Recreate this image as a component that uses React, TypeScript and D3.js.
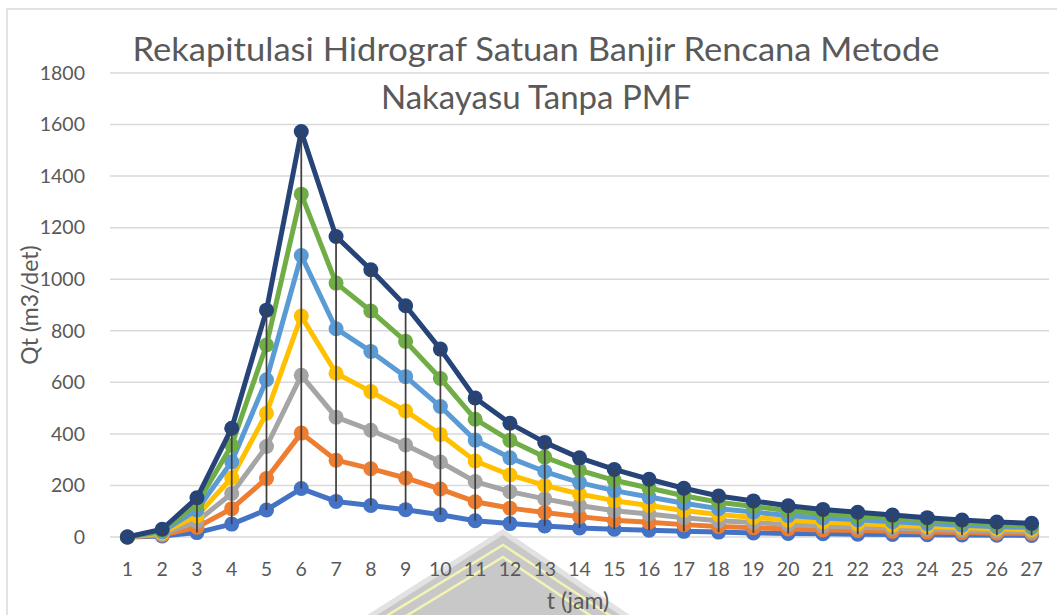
import React from 'react';
import * as d3 from 'd3';

// jam ke-
const hours = [1, 2, 3, 4, 5, 6, 7, 8, 9, 10, 11, 12, 13, 14, 15, 16, 17, 18, 19, 20, 21, 22, 23, 24, 25, 26, 27];
const yTicks = [0, 200, 400, 600, 800, 1000, 1200, 1400, 1600, 1800];

// debit per kala ulang (m3/det)
const q1 = [0, 4, 17, 50, 105, 188, 138, 122, 106, 86, 63, 52, 43, 35, 30, 26, 22, 19, 16, 14, 13, 11, 10, 9, 8, 7, 6];
const q2 = [0, 8, 38, 110, 227, 403, 298, 265, 229, 186, 137, 112, 95, 79, 65, 57, 48, 41, 36, 31, 27, 25, 22, 19, 17, 15, 14];
const q3 = [0, 12, 60, 169, 351, 627, 465, 414, 357, 291, 215, 176, 148, 122, 102, 89, 75, 63, 56, 48, 43, 38, 34, 30, 26, 23, 21];
const q4 = [0, 16, 82, 230, 480, 857, 635, 564, 489, 398, 295, 241, 200, 167, 141, 122, 103, 87, 76, 65, 58, 52, 46, 41, 36, 32, 29];
const q5 = [0, 21, 105, 292, 610, 1092, 808, 720, 622, 506, 376, 307, 254, 211, 180, 155, 131, 110, 97, 83, 74, 67, 59, 52, 46, 40, 37];
const q6 = [0, 25, 128, 356, 745, 1330, 985, 877, 759, 615, 457, 375, 310, 259, 220, 190, 160, 135, 118, 102, 91, 81, 72, 64, 56, 49, 45];
const q7 = [0, 30, 152, 422, 880, 1573, 1166, 1037, 897, 729, 539, 441, 367, 307, 262, 224, 189, 159, 140, 121, 107, 96, 85, 75, 66, 58, 53];

const series = [
  { name: 'Q1', color: '#4472C4', values: q1 },
  { name: 'Q2', color: '#ED7D31', values: q2 },
  { name: 'Q3', color: '#A5A5A5', values: q3 },
  { name: 'Q4', color: '#FFC000', values: q4 },
  { name: 'Q5', color: '#5B9BD5', values: q5 },
  { name: 'Q6', color: '#70AD47', values: q6 },
  { name: 'Q7', color: '#264478', values: q7 },
];

const W = 1057;
const H = 615;
const font = 'Lato, "Open Sans", sans-serif';
const textColor = '#595959';

export default function App() {
  const x = d3.scalePoint<number>().domain(hours).range([110, 1049]).padding(0.5);
  const y = d3.scaleLinear().domain([0, 1800]).range([537, 73]);

  const line = d3
    .line<number>()
    .x((d, i) => x(hours[i]) as number)
    .y((d) => y(d));

  // apex of the watermark logo behind the plot
  const wx = 503;
  const wy = 529;

  return (
    <svg
      width={W}
      height={H}
      style={{ position: 'absolute', left: 0, top: 0, background: '#fff' }}
      fontFamily={font}
    >
      <rect x={7} y={9} width={W + 20} height={H + 20} fill="#fff" stroke="#d9d9d9" strokeWidth={1.5} />

      {/* gridlines */}
      {yTicks.map((t) => (
        <line key={t} x1={110} x2={1049} y1={y(t)} y2={y(t)} stroke="#d9d9d9" strokeWidth={1.5} />
      ))}

      {/* watermark */}
      <g opacity={0.85}>
        <polygon points={`${wx},${wy} ${wx - 150},${wy + 95} ${wx + 140},${wy + 95}`} fill="#dedede" />
        <polygon points={`${wx},${wy + 6} ${wx - 140},${wy + 95} ${wx + 130},${wy + 95}`} fill="#bfbfbf" />
        <polyline
          points={`${wx - 130},${wy + 95} ${wx},${wy + 16} ${wx + 120},${wy + 95}`}
          fill="none"
          stroke="#f2f2a8"
          strokeWidth={2.5}
        />
        <polyline
          points={`${wx - 110},${wy + 95} ${wx},${wy + 28} ${wx + 100},${wy + 95}`}
          fill="none"
          stroke="#f2f2a8"
          strokeWidth={2.5}
        />
      </g>

      {/* y ticks */}
      {yTicks.map((t) => (
        <text key={t} x={85} y={y(t)} dy="0.35em" textAnchor="end" fontSize={19.5} fill={textColor}>
          {t}
        </text>
      ))}

      {/* x ticks */}
      {hours.map((h) => (
        <text key={h} x={x(h)} y={569} dy="0.35em" textAnchor="middle" fontSize={19.5} fill={textColor}>
          {h}
        </text>
      ))}

      {/* series */}
      {series.map((s) => (
        <g key={s.name}>
          <path d={line(s.values) as string} fill="none" stroke={s.color} strokeWidth={5} strokeLinejoin="round" />
          {s.values.map((v, i) => (
            <circle key={i} cx={x(hours[i])} cy={y(v)} r={7.5} fill={s.color} />
          ))}
        </g>
      ))}

      {/* high-low lines */}
      {hours.map((h, i) => {
        const vals = series.map((s) => s.values[i]);
        return (
          <line
            key={h}
            x1={x(h)}
            x2={x(h)}
            y1={y(d3.max(vals) as number)}
            y2={y(d3.min(vals) as number)}
            stroke="#404040"
            strokeWidth={1.75}
          />
        );
      })}

      {/* titles */}
      <text x={536} y={61} textAnchor="middle" fontSize={33} fill={textColor} textLength={807} lengthAdjust="spacingAndGlyphs">
        Rekapitulasi Hidrograf Satuan Banjir Rencana Metode
      </text>
      <text x={536} y={109} textAnchor="middle" fontSize={33} fill={textColor}>
        Nakayasu Tanpa PMF
      </text>
      <text x={578} y={609} textAnchor="middle" fontSize={23} fill={textColor}>
        t (jam)
      </text>
      <text transform="translate(38,305) rotate(-90)" textAnchor="middle" fontSize={23} fill={textColor}>
        Qt (m3/det)
      </text>
    </svg>
  );
}
